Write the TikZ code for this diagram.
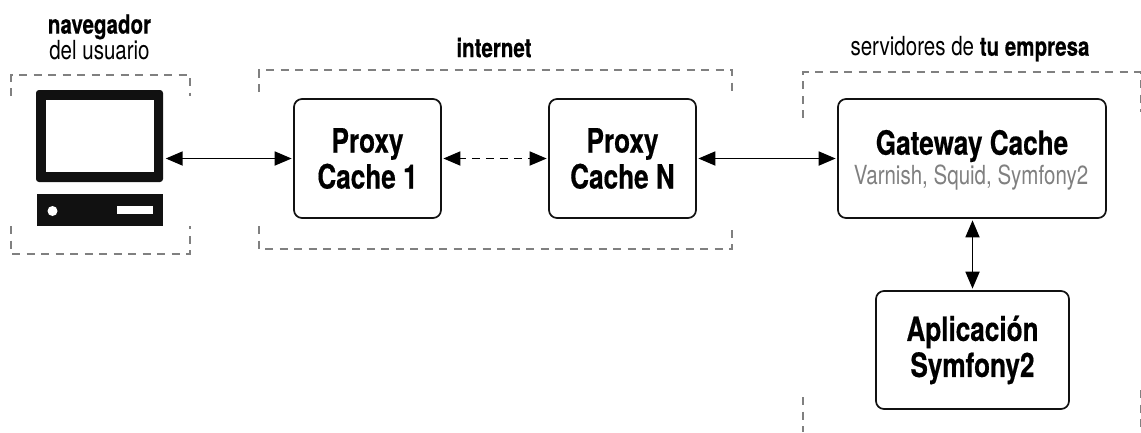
\documentclass[tikz,border=0pt]{standalone}
\usepackage{fontspec}
\setmainfont[FakeStretch=0.78,BoldFont={TeX Gyre Heros Bold},BoldFeatures={FakeBold=0.4}]{TeX Gyre Heros}
\usetikzlibrary{arrows.meta}
\definecolor{zone}{HTML}{808080}
\definecolor{ink}{HTML}{111111}
\tikzset{
  x=1pt,y=-1pt,
  cachebox/.style={draw=ink,line width=1.7pt,rounded corners=8pt,fill=white,inner sep=0pt,align=center,font=\fontsize{33.5}{36}\selectfont\bfseries},
  zoneline/.style={draw=zone,line width=1.4pt,dash pattern=on 8pt off 6.5pt},
  link/.style={draw=black,line width=1.8pt,{Triangle[length=17pt,width=14pt]}-{Triangle[length=17pt,width=14pt]},shorten <=1.5pt,shorten >=1.5pt},
  dashlink/.style={link,dash pattern=on 8.5pt off 5.5pt,dash phase=2pt},
  caption/.style={inner sep=0pt,align=center,font=\fontsize{26.3}{25.5}\selectfont},
  solidpart/.style={fill=ink,draw=none}
}
\begin{document}
\begin{tikzpicture}
\useasboundingbox (0,0) rectangle (1141,432);
% zones
\draw[zoneline] (11,96) -- (11,75) -- (190,75) -- (190,96);
\draw[zoneline] (11,226) -- (11,254) -- (190,254) -- (190,226);
\draw[zoneline] (259,92) -- (259,70) -- (732,70) -- (732,92);
\draw[zoneline] (259,226) -- (259,249) -- (732,249) -- (732,226);
\draw[zoneline] (803,118) -- (803,72) -- (1140.5,72) -- (1140.5,112);
\draw[zoneline] (803,397) -- (803,432);
\draw[zoneline] (1140.5,390) -- (1140.5,432);
% computer
\node[solidpart,rounded corners=3pt,minimum width=127pt,minimum height=92pt,inner sep=0pt] (monitor) at (99.5,136) {};
\fill[white] (46,100) rectangle (154,172);
\fill[ink] (36.5,194) rectangle (162.5,226);
\fill[white] (52.5,211) circle (5);
\fill[white] (117,206) rectangle (153,214);
% boxes
\node[cachebox,minimum width=147pt,minimum height=119pt] (p1) at (367.5,158.5) {Proxy\\Cache 1};
\node[cachebox,minimum width=147pt,minimum height=119pt] (pn) at (622.5,158.5) {Proxy\\Cache N};
\node[cachebox,minimum width=268pt,minimum height=119pt] (gw) at (972,158.5) {};
\node[inner sep=0pt,font=\fontsize{33.5}{36}\selectfont\bfseries] (gwt) at (972,146) {Gateway Cache};
\node[inner sep=0pt,text=zone,font=\fontsize{26.3}{26}\selectfont] (gws) at (971,178) {Varnish, Squid, Symfony2};
\node[cachebox,minimum width=193pt,minimum height=118pt] (app) at (972.5,350) {Aplicación\\Symfony2};
% labels
\node[caption] (lnav) at (99.5,37) {\textbf{navegador}\\del usuario};
\node[caption] (lint) at (494,47.5) {\textbf{internet}};
\node[caption] (lsrv) at (970,49) {servidores de \textbf{tu empresa}};
% connectors
\draw[link] (monitor.east |- p1.west) ++(1,0) coordinate (mr) (mr) -- (p1.west);
\draw[dashlink] (p1.east) -- (pn.west);
\draw[link] (pn.east) -- (gw.west);
\draw[link] (gw.south -| app.north) -- (app.north);
\end{tikzpicture}
\end{document}
